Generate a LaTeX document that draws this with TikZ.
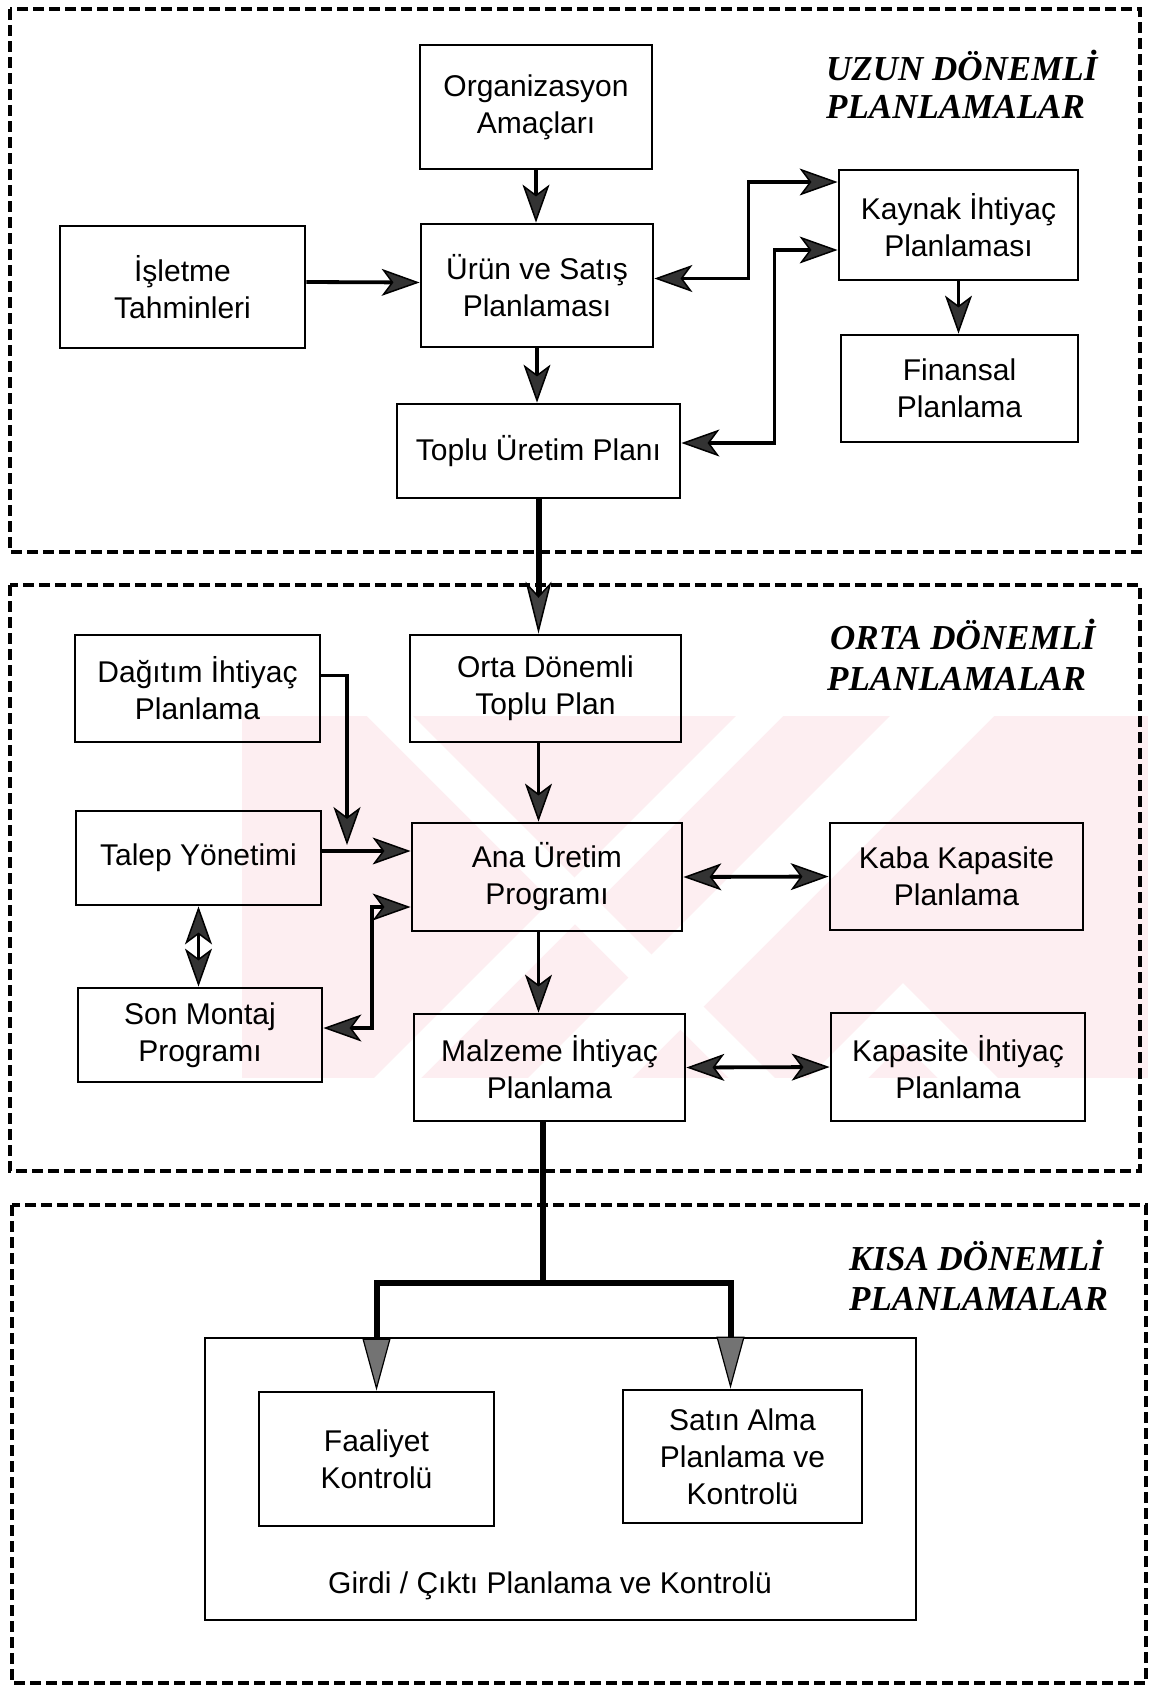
\documentclass[tikz,border=0pt]{standalone}
\usepackage{fontspec}
\setmainfont{Liberation Sans}
\newfontfamily\headfont{Liberation Serif}
\usetikzlibrary{arrows.meta}
\definecolor{wmpink}{RGB}{253,238,241}
\begin{document}
\begin{tikzpicture}[x=1pt,y=-1pt,
  box/.style={draw, line width=2.8pt, align=center, inner sep=0pt,
    font=\fontsize{30}{37}\selectfont},
  head/.style={font=\headfont\bfseries\itshape\fontsize{35}{41}\selectfont,
    inner sep=0pt, anchor=base west},
  frame/.style={line width=3.2pt, dash pattern=on 11pt off 5pt},
  link/.style={line width=3.8pt},
  trunk/.style={line width=6pt},
  >={Stealth[length=38pt,width=27pt,inset=10pt,line width=1.5pt,fill=black!80]},
  longtip/.style={-{Stealth[length=52pt,width=26pt,inset=14pt,line width=1.5pt,fill=black!75]}},
  conetip/.style={-{Triangle[length=52pt,width=28pt,line width=1.2pt,fill=black!55]}},
]
\useasboundingbox (0,0) rectangle (1153,1690);

% faint background emblem behind the middle section
\begin{scope}
  \clip (242,716) rectangle (1148,1078);
  \fill[wmpink] (242,716) rectangle (1148,1078);
  \fill[white] (736,716) -- (783,716) -- (421,1078) -- (374,1078) -- cycle;
  \fill[white] (890,716) -- (994,716) -- (632,1078) -- (528,1078) -- cycle;
  \fill[white] (367,716) -- (413,716) -- (775,1078) -- (729,1078) -- cycle;
  \fill[white] (903,983) -- (998,1078) -- (938,1078) -- (903,1043)
               -- (868,1078) -- (808,1078) -- cycle;
\end{scope}

% dashed section frames
\draw[frame] (10,9) rectangle (1140,552);
\draw[frame] (10,585) rectangle (1140,1171);
\draw[frame] (12,1205) rectangle (1146,1683);

% section headings
\node[head] (uzun1) at (826,80) {UZUN DÖNEMLİ};
\node[head] (uzun2) at (826,118) {PLANLAMALAR};
\node[head] (orta1) at (830,649) {ORTA DÖNEMLİ};
\node[head] (orta2) at (827,690) {PLANLAMALAR};
\node[head] (kisa1) at (849,1270) {KISA DÖNEMLİ};
\node[head] (kisa2) at (849,1310) {PLANLAMALAR};

% long-range planning
\node[box, minimum width=232, minimum height=124] (org) at (536,107) {Organizasyon\\Amaçları};
\node[box, minimum width=245, minimum height=122] (isl) at (182.5,287) {İşletme\\Tahminleri};
\node[box, minimum width=232, minimum height=123] (urun) at (537,285.5) {Ürün ve Satış\\Planlaması};
\node[box, minimum width=283, minimum height=94] (toplu) at (538.5,451) {Toplu Üretim Planı};
\node[box, minimum width=239, minimum height=110] (kaynak) at (958.5,225) {Kaynak İhtiyaç\\Planlaması};
\node[box, minimum width=237, minimum height=107] (finans) at (959.5,388.5) {Finansal\\Planlama};

% medium-range planning
\node[box, minimum width=245, minimum height=107] (dagitim) at (197.5,688.5) {Dağıtım İhtiyaç\\Planlama};
\node[box, minimum width=271, minimum height=107] (orta) at (545.5,688.5) {Orta Dönemli\\Toplu Plan};
\node[box, minimum width=245, minimum height=94] (talep) at (198.5,858) {Talep Yönetimi};
\node[box, minimum width=270, minimum height=108] (ana) at (547,877) {Ana Üretim\\Programı};
\node[box, minimum width=253, minimum height=107] (kaba) at (956.5,876.5) {Kaba Kapasite\\Planlama};
\node[box, minimum width=244, minimum height=94] (montaj) at (200,1035) {Son Montaj\\Programı};
\node[box, minimum width=271, minimum height=107] (malz) at (549.5,1067.5) {Malzeme İhtiyaç\\Planlama};
\node[box, minimum width=254, minimum height=108] (kapas) at (958,1067) {Kapasite İhtiyaç\\Planlama};

% short-range planning
\node[box, minimum width=711, minimum height=282] (girdi) at (560.5,1479) {};
\node[font=\fontsize{30}{37}\selectfont, inner sep=0pt] (girdilbl) at (550,1586) {Girdi / Çıktı Planlama ve Kontrolü};
\node[box, minimum width=235, minimum height=134] (faal) at (376.5,1459) {Faaliyet\\Kontrolü};
\node[box, minimum width=239, minimum height=133] (satin) at (742.5,1456.5) {Satın Alma\\Planlama ve\\Kontrolü};

% connectors: long-range
\draw[link,->] (org.south) -- (org.south |- urun.north);
\draw[link,->] ([yshift=5pt]isl.east) -- ([yshift=3pt]urun.west);
\draw[link,->] (urun.south) -- (urun.south |- toplu.north);
\draw[link,<->] ([yshift=7pt]urun.east) -- ++(94,0) |- ([yshift=43pt]kaynak.west);
\draw[link,<->] ([yshift=8pt]toplu.east) -- ++(93,0) |- ([yshift=-25pt]kaynak.west);
\draw[link,->] (kaynak.south) -- (kaynak.south |- finans.north);

% long-range to medium-range
\draw[trunk,longtip] (toplu.south) -- (toplu.south |- orta.north);

% connectors: medium-range
\coordinate (dagend) at (347,845);
\draw[link,->] ([yshift=13pt]dagitim.east) -| (dagend);
\draw[link,->] ([yshift=7pt]talep.east) -- ([yshift=26pt]ana.west);
\draw[link,<->] (talep.south) -- (talep.south |- montaj.north);
\draw[link,<->] ([yshift=-30pt]ana.west) -- ++(-39,0) |- ([yshift=7pt]montaj.east);
\draw[link,->] (orta.south -| toplu.south) -- (ana.north -| toplu.south);
\draw[link,->] (ana.south -| toplu.south) -- (malz.north -| toplu.south);
\draw[link,<->] (ana.east) -- (kaba.west);
\draw[link,<->] (malz.east) -- (kapas.west);

% medium-range to short-range
\coordinate (split) at (543,1283);
\draw[trunk] (malz.south -| split) -- (split);
\draw[trunk,conetip] (split) -| (faal.north);
\draw[trunk,conetip] (split) -| ([xshift=-12pt]satin.north);
\end{tikzpicture}
\end{document}
